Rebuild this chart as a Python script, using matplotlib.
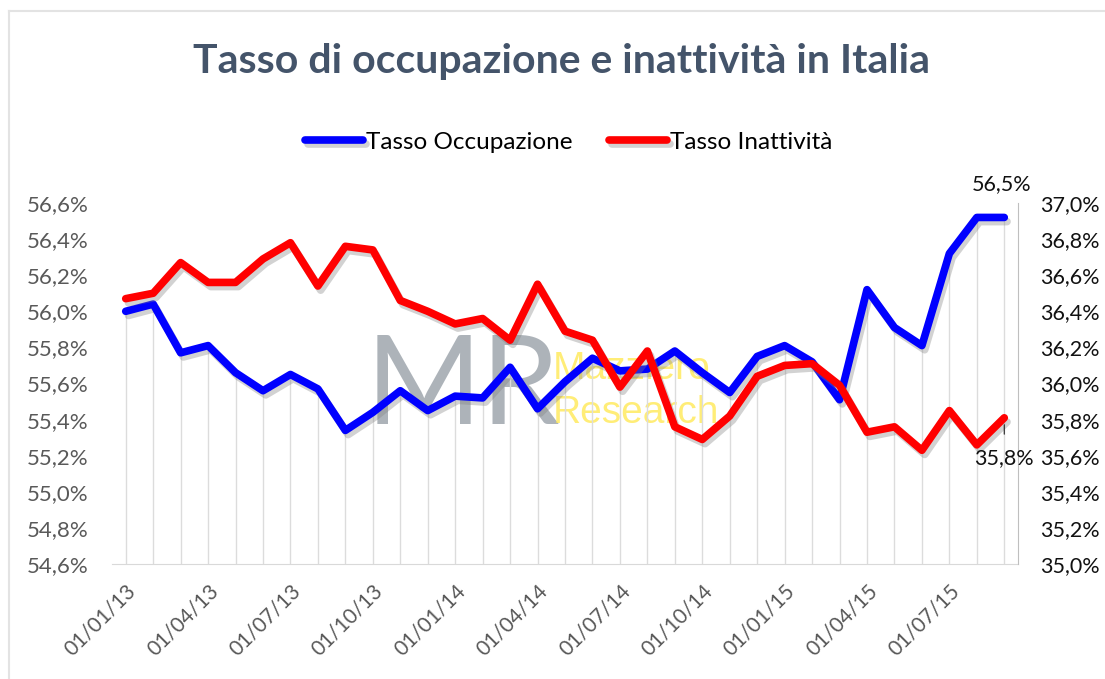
import matplotlib
matplotlib.use("Agg")
import matplotlib.pyplot as plt
import matplotlib.patheffects as pe
from matplotlib.lines import Line2D

plt.rcParams['font.family'] = ['Lato', 'DejaVu Sans']

# mesi da gennaio 2013 a settembre 2015
mesi = ['01/%02d/%02d' % (m, a) for a in (13, 14, 15) for m in range(1, 13)][:33]

# tasso di occupazione (asse sinistro)
occupazione = [56.00, 56.04, 55.77, 55.81, 55.66, 55.56, 55.65, 55.57, 55.34, 55.44,
               55.56, 55.45, 55.53, 55.52, 55.69, 55.46, 55.61, 55.74, 55.67, 55.68,
               55.78, 55.66, 55.55, 55.75, 55.81, 55.72, 55.51, 56.12, 55.91, 55.81,
               56.32, 56.52, 56.52]

# tasso di inattivita (asse destro)
inattivita = [36.47, 36.50, 36.67, 36.56, 36.56, 36.69, 36.78, 36.54, 36.76, 36.74,
              36.46, 36.40, 36.33, 36.36, 36.24, 36.55, 36.29, 36.24, 35.98, 36.18,
              35.76, 35.69, 35.82, 36.04, 36.10, 36.11, 35.99, 35.73, 35.76, 35.63,
              35.85, 35.66, 35.81]

sx_ticks = [54.6, 54.8, 55.0, 55.2, 55.4, 55.6, 55.8, 56.0, 56.2, 56.4, 56.6]
dx_ticks = [35.0, 35.2, 35.4, 35.6, 35.8, 36.0, 36.2, 36.4, 36.6, 36.8, 37.0]


def perc(v):
    return ('%.1f%%' % v).replace('.', ',')


fig = plt.figure(figsize=(11.05, 6.79), dpi=100)
ax = fig.add_axes([112 / 1105, 1 - 564 / 679, (1018 - 112) / 1105, (564 - 203) / 679])
ax2 = ax.twinx()
ax.patch.set_visible(False)
ax2.patch.set_visible(False)

x = list(range(len(mesi)))

# cornice grigia del grafico
fig.add_artist(Line2D([8.5 / 1105, 8.5 / 1105], [0, 1 - 11 / 679], color='#E3E3E3', lw=1.5))
fig.add_artist(Line2D([8.5 / 1105, 1], [1 - 11 / 679, 1 - 11 / 679], color='#E3E3E3', lw=1.5))

# watermark
fig.text(366 / 1105, 1 - 424 / 679, 'MR', fontsize=90, color='#A4ABB2', alpha=0.9,
         ha='left', va='baseline', zorder=-1)
fig.text(553 / 1105, 1 - 379 / 679, 'Mazziero', fontsize=28, color='#FFE74A', alpha=0.75,
         family=['Liberation Sans', 'DejaVu Sans'], ha='left', va='baseline', zorder=-1)
fig.text(553 / 1105, 1 - 423 / 679, 'Research', fontsize=28, color='#FFE74A', alpha=0.75,
         family=['Liberation Sans', 'DejaVu Sans'], ha='left', va='baseline', zorder=-1)

# linee di riferimento verticali
ax.vlines(x, sx_ticks[0], occupazione, color='#DCDCDC', lw=1, zorder=1)

ombra = [pe.SimpleLineShadow(offset=(2, -3), shadow_color='#808080', alpha=0.35),
         pe.Normal()]
l1, = ax.plot(x, occupazione, color='#0000FF', lw=5.5, solid_capstyle='round',
              solid_joinstyle='round', path_effects=ombra, zorder=3)
l2, = ax2.plot(x, inattivita, color='#FF0000', lw=5.5, solid_capstyle='round',
               solid_joinstyle='round', path_effects=ombra, zorder=3)

ax.set_xlim(-0.5, len(mesi) - 0.5)
ax.set_ylim(sx_ticks[0], sx_ticks[-1])
ax2.set_ylim(dx_ticks[0], dx_ticks[-1])

ax.set_yticks(sx_ticks)
ax.set_yticklabels([perc(v) for v in sx_ticks], fontsize=16, color='#595959')
ax2.set_yticks(dx_ticks)
ax2.set_yticklabels([perc(v) for v in dx_ticks], fontsize=15.5, color='#111111')
ax.tick_params(axis='y', length=0, pad=17)
ax2.tick_params(axis='y', length=0, pad=16)

ax.set_xticks(x[::3])
ax.set_xticklabels(mesi[::3], rotation=45, ha='right', rotation_mode='anchor',
                   fontsize=15, color='#595959')
ax.tick_params(axis='x', length=0, pad=12)

for a in (ax, ax2):
    a.spines['top'].set_visible(False)
    a.spines['left'].set_visible(False)
    a.spines['right'].set_visible(False)
    a.spines['bottom'].set_visible(False)
ax2.spines['right'].set_visible(True)
ax2.spines['right'].set_color('#BFBFBF')
ax.spines['bottom'].set_visible(True)
ax.spines['bottom'].set_color('#D9D9D9')

# etichette ultimo valore
ax.annotate(perc(occupazione[-1]), (x[-1], occupazione[-1]), xytext=(-2, 24),
            textcoords='offset points', ha='center', va='center', fontsize=15.5,
            color='#111111')
ax2.annotate(perc(inattivita[-1]), (x[-1], inattivita[-1]), xytext=(0, -29),
             textcoords='offset points', ha='center', va='center', fontsize=15.5,
             color='#111111',
             arrowprops=dict(arrowstyle='-', color='#222222', lw=0.8,
                             shrinkA=8, shrinkB=5))

fig.text(0.508, 1 - 62 / 679, 'Tasso di occupazione e inattività in Italia',
         fontsize=29.5, fontweight='bold', color='#44546A', ha='center', va='center')

fig.legend([l1, l2], ['Tasso Occupazione', 'Tasso Inattività'], loc='center',
           bbox_to_anchor=(0.5145, 1 - 142 / 679), ncol=2, frameon=False, fontsize=17.5,
           handlelength=2.4, handletextpad=0.1, columnspacing=1.5)

fig.savefig('out.png', dpi=100)
